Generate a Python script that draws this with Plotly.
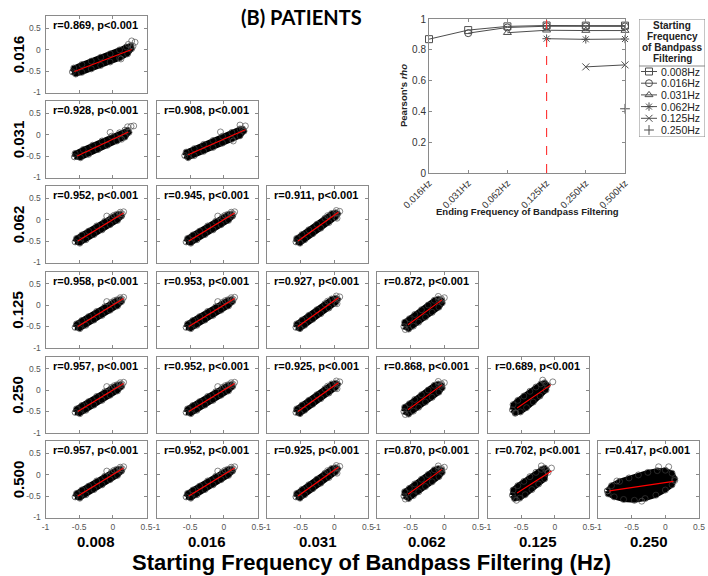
import plotly.graph_objects as go

# ---------------- data ----------------
ROW_LABELS = ["0.016", "0.031", "0.062", "0.125", "0.250", "0.500"]   # ending frequency
COL_LABELS = ["0.008", "0.016", "0.031", "0.062", "0.125", "0.250"]   # starting frequency
R_VALUES = [
    [0.869],
    [0.928, 0.908],
    [0.952, 0.945, 0.911],
    [0.958, 0.953, 0.927, 0.872],
    [0.957, 0.952, 0.925, 0.868, 0.689],
    [0.957, 0.952, 0.925, 0.870, 0.702, 0.417],
]
ENDING_TICKS = ["0.016Hz", "0.031Hz", "0.062Hz", "0.125Hz", "0.250Hz", "0.500Hz"]
STARTING_NAMES = ["0.008Hz", "0.016Hz", "0.031Hz", "0.062Hz", "0.125Hz", "0.250Hz"]
CUTOFF_TICK = "0.125Hz"
LEGEND_TITLE = ["Starting", "Frequency", "of Bandpass", "Filtering"]

# point clouds (outline of the dense region), outlying points and fit lines
CLOUD_A_X = [-0.60, -0.58, -0.46, -0.32, -0.18, -0.04, 0.10, 0.20, 0.27, 0.28, 0.22, 0.10, -0.04, -0.18, -0.32, -0.46, -0.55]
CLOUD_A_Y = [-0.52, -0.43, -0.35, -0.27, -0.18, -0.10, -0.01, 0.06, 0.09, 0.02, -0.10, -0.20, -0.29, -0.37, -0.45, -0.53, -0.57]
OUT_A_X = [0.28, 0.33, 0.23, 0.12, 0.30]
OUT_A_Y = [0.20, 0.17, 0.12, -0.22, 0.08]
FIT_A = [-0.57, -0.51, 0.28, 0.00]

CLOUD_B_X = [-0.57, -0.56, -0.44, -0.30, -0.16, -0.02, 0.10, 0.18, 0.22, 0.24, 0.18, 0.06, -0.08, -0.22, -0.36, -0.48]
CLOUD_B_Y = [-0.52, -0.44, -0.35, -0.25, -0.15, -0.04, 0.04, 0.10, 0.10, 0.05, -0.06, -0.15, -0.25, -0.35, -0.46, -0.54]
OUT_B_X = [0.22, 0.31, 0.27, -0.04, 0.13]
OUT_B_Y = [0.18, 0.20, 0.19, 0.05, -0.11]
FIT_B = [-0.53, -0.50, 0.23, 0.06]

CLOUD_C_X = [-0.58, -0.56, -0.44, -0.30, -0.16, -0.02, 0.12, 0.24, 0.28, 0.30, 0.24, 0.12, -0.02, -0.16, -0.30, -0.44, -0.53]
CLOUD_C_Y = [-0.49, -0.41, -0.33, -0.23, -0.14, -0.04, 0.05, 0.13, 0.13, 0.08, -0.03, -0.11, -0.20, -0.30, -0.39, -0.49, -0.54]
OUT_C_X = [0.24, 0.32, -0.05, 0.14]
OUT_C_Y = [0.22, 0.20, 0.06, -0.15]
FIT_C = [-0.53, -0.47, 0.32, 0.11]

CLOUD_D_X = [-0.56, -0.54, -0.46, -0.36, -0.24, -0.12, -0.02, 0.06, 0.11, 0.13, 0.07, -0.04, -0.16, -0.28, -0.40, -0.49]
CLOUD_D_Y = [-0.52, -0.44, -0.36, -0.27, -0.15, -0.04, 0.06, 0.12, 0.13, 0.08, -0.02, -0.12, -0.24, -0.35, -0.47, -0.55]
OUT_D_X = [-0.09, 0.11, 0.16, 0.14, 0.02]
OUT_D_Y = [0.08, 0.17, 0.18, 0.13, 0.10]
FIT_D = [-0.52, -0.50, 0.16, 0.15]

CLOUD_F_X = [-0.57, -0.56, -0.48, -0.38, -0.26, -0.14, -0.04, 0.02, 0.05, 0.02, -0.08, -0.20, -0.32, -0.44, -0.51]
CLOUD_F_Y = [-0.52, -0.44, -0.35, -0.24, -0.11, 0.03, 0.14, 0.16, 0.13, 0.05, -0.07, -0.20, -0.33, -0.47, -0.55]
OUT_F_X = [-0.10, 0.03, 0.08, 0.04]
OUT_F_Y = [0.09, 0.21, 0.19, 0.03]
FIT_F = [-0.54, -0.50, 0.06, 0.17]

CLOUD_G_X = [-0.60, -0.59, -0.52, -0.44, -0.34, -0.24, -0.15, -0.09, -0.04, -0.03, -0.08, -0.18, -0.28, -0.38, -0.46, -0.53]
CLOUD_G_Y = [-0.50, -0.40, -0.32, -0.22, -0.11, 0.00, 0.11, 0.14, 0.11, 0.05, -0.05, -0.17, -0.28, -0.40, -0.49, -0.56]
OUT_G_X = [-0.09, 0.00, -0.04, -0.58]
OUT_G_Y = [0.20, 0.17, 0.14, -0.57]
FIT_G = [-0.54, -0.46, -0.035, 0.12]

CLOUD_H_X = [-0.63, -0.62, -0.55, -0.46, -0.37, -0.28, -0.21, -0.15, -0.11, -0.13, -0.22, -0.32, -0.42, -0.51, -0.59]
CLOUD_H_Y = [-0.46, -0.34, -0.24, -0.14, -0.03, 0.07, 0.14, 0.17, 0.11, 0.00, -0.14, -0.28, -0.41, -0.51, -0.54]
OUT_H_X = [-0.03, -0.18, -0.58]
OUT_H_Y = [0.19, 0.23, -0.53]
FIT_H = [-0.56, -0.42, -0.06, 0.12]

CLOUD_I_X = [-0.63, -0.62, -0.55, -0.46, -0.37, -0.28, -0.20, -0.15, -0.12, -0.15, -0.24, -0.34, -0.44, -0.52, -0.60]
CLOUD_I_Y = [-0.48, -0.36, -0.26, -0.16, -0.05, 0.05, 0.12, 0.15, 0.10, -0.10, -0.22, -0.35, -0.47, -0.55, -0.56]
OUT_I_X = [-0.20, -0.05, -0.57, -0.10]
OUT_I_Y = [0.20, 0.15, -0.60, 0.05]
FIT_I = [-0.56, -0.43, -0.05, 0.08]

CLOUD_J_X = [-0.86, -0.80, -0.68, -0.54, -0.40, -0.26, -0.12, 0.00, 0.10, 0.14, 0.10, 0.00, -0.14, -0.30, -0.46, -0.62, -0.76, -0.85]
CLOUD_J_Y = [-0.38, -0.26, -0.16, -0.08, -0.01, 0.05, 0.09, 0.10, 0.03, -0.10, -0.24, -0.36, -0.48, -0.56, -0.60, -0.58, -0.52, -0.45]
OUT_J_X = [-0.10, 0.05, -0.72, 0.14, -0.86, -0.35]
OUT_J_Y = [0.18, 0.18, -0.15, -0.14, -0.38, -0.62]
FIT_J = [-0.83, -0.38, 0.12, -0.16]

PANEL_SHAPE = [
    ["A"],
    ["B", "C"],
    ["D", "D", "F"],
    ["D", "D", "F", "G"],
    ["D", "D", "F", "G", "H"],
    ["D", "D", "F", "G", "I", "J"],
]

SHAPES = {
    "A": (CLOUD_A_X, CLOUD_A_Y, OUT_A_X, OUT_A_Y, FIT_A),
    "B": (CLOUD_B_X, CLOUD_B_Y, OUT_B_X, OUT_B_Y, FIT_B),
    "C": (CLOUD_C_X, CLOUD_C_Y, OUT_C_X, OUT_C_Y, FIT_C),
    "D": (CLOUD_D_X, CLOUD_D_Y, OUT_D_X, OUT_D_Y, FIT_D),
    "F": (CLOUD_F_X, CLOUD_F_Y, OUT_F_X, OUT_F_Y, FIT_F),
    "G": (CLOUD_G_X, CLOUD_G_Y, OUT_G_X, OUT_G_Y, FIT_G),
    "H": (CLOUD_H_X, CLOUD_H_Y, OUT_H_X, OUT_H_Y, FIT_H),
    "I": (CLOUD_I_X, CLOUD_I_Y, OUT_I_X, OUT_I_Y, FIT_I),
    "J": (CLOUD_J_X, CLOUD_J_Y, OUT_J_X, OUT_J_Y, FIT_J),
}

# ---------------- layout constants ----------------
W, H = 708, 576
COL_LEFT = [45.5, 156.5, 267, 377, 487.5, 598]
ROW_TOP = [16, 101, 186, 271.5, 356.5, 441]
PW, PH = 101, 76.5
FONT = "Liberation Sans, Arial, sans-serif"
AXC = "#8a8a8a"
TICKC = "#555555"
SERIES_C = "#4d4d4d"
SYMBOLS = ["square-open", "circle-open", "triangle-up-open", "asterisk-open", "x-thin-open", "cross-thin-open"]


def px_x(p):
    return p / W


def px_y(p):
    return 1 - p / H


def ax_names(k):
    return ("xaxis" if k == 1 else f"xaxis{k}", "yaxis" if k == 1 else f"yaxis{k}",
            "x" if k == 1 else f"x{k}", "y" if k == 1 else f"y{k}")


fig = go.Figure()
layout_axes = {}
annotations = []
shapes = []

base_axis = dict(showline=True, linecolor=AXC, linewidth=1, mirror="allticks", ticks="inside",
                 ticklen=3, tickcolor=AXC, tickwidth=1, showgrid=False, zeroline=False,
                 automargin=False, fixedrange=True,
                 tickfont=dict(family=FONT, size=8.5, color=TICKC))

k = 0
for i in range(6):
    for j in range(i + 1):
        k += 1
        xa, ya, xr, yr = ax_names(k)
        L, T = COL_LEFT[j], ROW_TOP[i]
        layout_axes[xa] = dict(base_axis, domain=[px_x(L), px_x(L + PW)], range=[-1, 0.5],
                               tickvals=[-1, -0.5, 0, 0.5], ticktext=["-1", "-0.5", "0", "0.5"],
                               showticklabels=(i == 5), anchor=yr, ticklabelstandoff=1)
        layout_axes[ya] = dict(base_axis, domain=[px_y(T + PH), px_y(T)], range=[-1, 0.78],
                               tickvals=[-1, -0.5, 0, 0.5], ticktext=["-1", "-0.5", "0", "0.5"],
                               showticklabels=(j == 0), anchor=xr, ticklabelstandoff=2)
        cx, cy, ox, oy, fit = SHAPES[PANEL_SHAPE[i][j]]
        fig.add_trace(go.Scatter(x=cx + [cx[0]], y=cy + [cy[0]], xaxis=xr, yaxis=yr,
                                 mode="lines", fill="toself", fillcolor="black",
                                 line=dict(color="black", width=5),
                                 hoverinfo="skip", showlegend=False))
        fig.add_trace(go.Scatter(x=cx, y=cy, xaxis=xr, yaxis=yr, mode="markers",
                                 marker=dict(symbol="circle-open", size=6, color="#3a3a3a",
                                             line=dict(width=0.7)),
                                 hoverinfo="skip", showlegend=False))
        fig.add_trace(go.Scatter(x=ox, y=oy, xaxis=xr, yaxis=yr, mode="markers",
                                 marker=dict(symbol="circle-open", size=6, color="#555555",
                                             line=dict(width=0.7)),
                                 hoverinfo="skip", showlegend=False))
        fig.add_trace(go.Scatter(x=[fit[0], fit[2]], y=[fit[1], fit[3]], xaxis=xr, yaxis=yr,
                                 mode="lines", line=dict(color="#ff0000", width=1.1),
                                 hoverinfo="skip", showlegend=False))
        annotations.append(dict(xref="paper", yref="paper", x=px_x(L + 5), y=px_y(T + 9),
                                xanchor="left", yanchor="middle", showarrow=False,
                                text=f"<b>r={R_VALUES[i][j]:.3f}, p&lt;0.001</b>",
                                font=dict(family=FONT, size=11, color="black")))

# row labels and column labels
for i, lab in enumerate(ROW_LABELS):
    annotations.append(dict(xref="paper", yref="paper", x=px_x(18), y=px_y(ROW_TOP[i] + PH / 2),
                            xanchor="center", yanchor="middle", showarrow=False, textangle=-90,
                            text=f"<b>{lab}</b>", font=dict(family=FONT, size=15, color="black")))
for j, lab in enumerate(COL_LABELS):
    annotations.append(dict(xref="paper", yref="paper", x=px_x(COL_LEFT[j] + PW / 2), y=px_y(541),
                            xanchor="center", yanchor="middle", showarrow=False,
                            text=f"<b>{lab}</b>", font=dict(family=FONT, size=15, color="black")))
annotations.append(dict(xref="paper", yref="paper", x=px_x(371), y=px_y(562), xanchor="center",
                        yanchor="middle", showarrow=False,
                        text="<b>Starting Frequency of Bandpass Filtering (Hz)</b>",
                        font=dict(family=FONT, size=22, color="black")))
annotations.append(dict(xref="paper", yref="paper", x=px_x(301), y=px_y(17), xanchor="center",
                        yanchor="middle", showarrow=False, text="<b>(B) PATIENTS</b>",
                        font=dict(family="Lato, Open Sans, sans-serif", size=20, color="black")))

# ---------------- inset line chart ----------------
k += 1
xa, ya, xr, yr = ax_names(k)
IL, IR, IT, IB = 429, 625, 19, 173
layout_axes[xa] = dict(base_axis, domain=[px_x(IL), px_x(IR)], range=[0, 5],
                       tickvals=list(range(len(ENDING_TICKS))), ticktext=ENDING_TICKS, tickangle=-45,
                       anchor=yr, tickfont=dict(family=FONT, size=9.5, color="#333333"))
layout_axes[ya] = dict(base_axis, domain=[px_y(IB), px_y(IT)], range=[0, 1],
                       tickvals=[0, 0.2, 0.4, 0.6, 0.8, 1], ticktext=["0", "0.2", "0.4", "0.6", "0.8", "1"],
                       anchor=xr, tickfont=dict(family=FONT, size=10, color="#333333"))
cut = ENDING_TICKS.index(CUTOFF_TICK)
shapes.append(dict(type="line", xref=xr, yref=yr, x0=cut, x1=cut, y0=0, y1=1,
                   line=dict(color="#ff3030", width=1.1, dash="dash")))
for j, name in enumerate(STARTING_NAMES):
    xs = [i for i in range(j, 6)]
    ys = [R_VALUES[i][j] for i in range(j, 6)]
    fig.add_trace(go.Scatter(x=xs, y=ys, xaxis=xr, yaxis=yr, mode="lines+markers", name=name,
                             line=dict(color=SERIES_C, width=1), cliponaxis=False,
                             marker=dict(symbol=SYMBOLS[j], size=7, color=SERIES_C,
                                         line=dict(width=1, color=SERIES_C)),
                             showlegend=False))
annotations.append(dict(xref="paper", yref="paper", x=px_x(527), y=px_y(211), xanchor="center",
                        yanchor="middle", showarrow=False,
                        text="<b>Ending Frequency of Bandpass Filtering</b>",
                        font=dict(family=FONT, size=9.5, color="#222222")))
annotations.append(dict(xref="paper", yref="paper", x=px_x(404), y=px_y(96), xanchor="center",
                        yanchor="middle", showarrow=False, textangle=-90,
                        text="<b>Pearson's <i>rho</i></b>",
                        font=dict(family=FONT, size=9.5, color="#222222")))

# ---------------- manual legend ----------------
k += 1
xa, ya, xr, yr = ax_names(k)
LL, LR, LT, LB = 639, 705, 19, 137
layout_axes[xa] = dict(domain=[px_x(LL), px_x(LR)], range=[LL, LR], visible=False, fixedrange=True,
                       automargin=False, anchor=yr)
layout_axes[ya] = dict(domain=[px_y(LB), px_y(LT)], range=[LB, LT], visible=False, fixedrange=True,
                       automargin=False, anchor=xr)
shapes.append(dict(type="rect", xref=xr, yref=yr, x0=LL, x1=LR, y0=LT, y1=LB,
                   line=dict(color=AXC, width=1), fillcolor="white", layer="below"))
shapes.append(dict(type="line", xref=xr, yref=yr, x0=LL, x1=LR, y0=66, y1=66,
                   line=dict(color=AXC, width=1)))
TITLE_Y = [25.5, 36.5, 47.5, 58.5]
for t, yy in zip(LEGEND_TITLE, TITLE_Y):
    annotations.append(dict(xref=xr, yref=yr, x=(LL + LR) / 2, y=yy, xanchor="center", yanchor="middle",
                            showarrow=False, text=f"<b>{t}</b>",
                            font=dict(family=FONT, size=10, color="#222222")))
ENTRY_Y = [71.5, 83.2, 94.9, 106.6, 118.3, 130]
for j, name in enumerate(STARTING_NAMES):
    yy = ENTRY_Y[j]
    if j < 5:
        fig.add_trace(go.Scatter(x=[641, 657], y=[yy, yy], xaxis=xr, yaxis=yr, mode="lines",
                                 line=dict(color=SERIES_C, width=1), hoverinfo="skip", showlegend=False))
    fig.add_trace(go.Scatter(x=[649], y=[yy], xaxis=xr, yaxis=yr, mode="markers", cliponaxis=False,
                             marker=dict(symbol=SYMBOLS[j], size=7, color=SERIES_C,
                                         line=dict(width=1, color=SERIES_C)),
                             hoverinfo="skip", showlegend=False))
    annotations.append(dict(xref=xr, yref=yr, x=659, y=yy, xanchor="left", yanchor="middle",
                            showarrow=False, text=name, font=dict(family=FONT, size=10.5, color="#222222")))

fig.update_layout(template="none", width=W, height=H, margin=dict(l=0, r=0, t=0, b=0, autoexpand=False),
                  paper_bgcolor="white", plot_bgcolor="white", showlegend=False,
                  annotations=annotations, shapes=shapes, **layout_axes)
fig.write_html("out.html")
